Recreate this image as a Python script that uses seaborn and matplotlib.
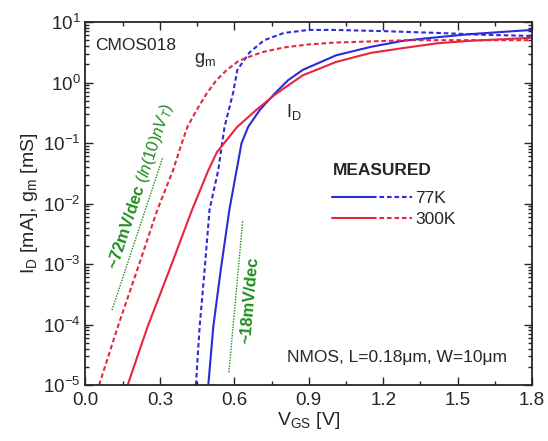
"""NMOS transfer characteristics at 77K and 300K (CMOS018)."""
import matplotlib
matplotlib.use("Agg")
import matplotlib.pyplot as plt
import numpy as np
import pandas as pd
import seaborn as sns
from matplotlib.legend_handler import HandlerTuple
from matplotlib.lines import Line2D
from matplotlib.ticker import LogLocator, MultipleLocator, NullFormatter

# ---- data (V_GS in V, log10 of I_D [mA] / g_m [mS]) ----
vgs_id_300 = [0.17, 0.25, 0.34, 0.43, 0.495, 0.53, 0.575, 0.61, 0.689, 0.77,
              0.876, 1.01, 1.15, 1.28, 1.42, 1.55, 1.80]
log_id_300 = [-5.0, -4.04, -3.08, -2.1, -1.45, -1.15, -0.92, -0.74, -0.45, -0.18,
              0.12, 0.34, 0.49, 0.57, 0.65, 0.69, 0.74]

vgs_gm_300 = [0.055, 0.13, 0.21, 0.29, 0.353, 0.381, 0.41, 0.448, 0.49, 0.528,
              0.57, 0.615, 0.643, 0.71, 0.80, 0.90, 1.00, 1.15, 1.30, 1.50, 1.80]
log_gm_300 = [-5.0, -4.04, -3.08, -2.1, -1.45, -1.09, -0.74, -0.455, -0.17, 0.04,
              0.21, 0.35, 0.40, 0.50, 0.58, 0.63, 0.66, 0.68, 0.70, 0.70, 0.70]

vgs_id_77 = [0.495, 0.515, 0.545, 0.58, 0.609, 0.629, 0.656, 0.703, 0.763,
             0.817, 0.876, 1.01, 1.15, 1.28, 1.42, 1.55, 1.80]
log_id_77 = [-5.0, -4.04, -3.1, -2.1, -1.45, -1.0, -0.73, -0.45, -0.18,
             0.04, 0.21, 0.45, 0.59, 0.69, 0.75, 0.80, 0.87]

vgs_gm_77 = [0.445, 0.46, 0.48, 0.50, 0.535, 0.56, 0.595, 0.612, 0.643, 0.662,
             0.72, 0.80, 0.90, 1.00, 1.20, 1.42, 1.60, 1.80]
log_gm_77 = [-5.0, -4.04, -3.1, -2.1, -1.45, -0.74, -0.17, 0.21, 0.39, 0.50,
             0.70, 0.82, 0.87, 0.87, 0.85, 0.82, 0.79, 0.77]

# subthreshold slope guide lines (two end points each)
slope72_v = [0.107, 0.312]
slope72_log = [-3.76, -1.23]
slope18_v = [0.578, 0.634]
slope18_log = [-4.79, -2.27]

temps = ["77K", "300K"]
x_ticks = [0.0, 0.3, 0.6, 0.9, 1.2, 1.5, 1.8]

BLUE = "#2b2bdb"
RED = "#e6263d"
GREEN = "#1f8c1f"

sns.set_style("ticks")
plt.rcParams["font.family"] = ["Liberation Sans", "DejaVu Sans"]
plt.rcParams["mathtext.fontset"] = "custom"
plt.rcParams["mathtext.rm"] = "Liberation Sans"
plt.rcParams["mathtext.it"] = "Liberation Sans:italic"
plt.rcParams["mathtext.bf"] = "Liberation Sans:bold"


def _frame(v, logv, temp, qty):
    return pd.DataFrame({"V": v, "val": 10.0 ** np.asarray(logv), "temp": temp, "qty": qty})


df = pd.concat([
    _frame(vgs_id_77, log_id_77, "77K", "ID"),
    _frame(vgs_gm_77, log_gm_77, "77K", "gm"),
    _frame(vgs_id_300, log_id_300, "300K", "ID"),
    _frame(vgs_gm_300, log_gm_300, "300K", "gm"),
], ignore_index=True)

fig = plt.figure(figsize=(5.48, 4.41), dpi=100)
ax = fig.add_axes([0.156, 0.127, 0.815, 0.823])

dash = (2.2, 1.4)
sns.lineplot(data=df, x="V", y="val", hue="temp", style="qty",
             palette={"77K": BLUE, "300K": RED},
             dashes={"ID": "", "gm": dash},
             estimator=None, sort=False, linewidth=1.5, legend=False, ax=ax)

for v, lg in [(slope72_v, slope72_log), (slope18_v, slope18_log)]:
    sns.lineplot(x=v, y=10.0 ** np.asarray(lg), color=GREEN, linestyle=(0, (1, 1)),
                 linewidth=1.0, estimator=None, ax=ax)

ax.set_yscale("log")
ax.set_xlim(0, 1.8)
ax.set_ylim(1e-5, 1e1)
ax.set_xticks(x_ticks)
ax.set_xticklabels([f"{t:.1f}" for t in x_ticks])
ax.xaxis.set_minor_locator(MultipleLocator(0.15))
ax.xaxis.set_minor_formatter(NullFormatter())
ax.yaxis.set_major_locator(LogLocator(base=10, numticks=10))
ax.yaxis.set_minor_locator(LogLocator(base=10, subs=np.arange(2, 10), numticks=20))
ax.yaxis.set_minor_formatter(NullFormatter())
ax.tick_params(which="both", direction="in", top=True, right=True, labelsize=13.5,
               width=1.0)
ax.tick_params(which="major", length=6)
ax.tick_params(which="minor", length=3)
ax.tick_params(axis="x", which="major", pad=5)
for sp in ax.spines.values():
    sp.set_linewidth(1.3)

ax.set_xlabel(r"$\mathrm{V_{GS}}$ [V]", fontsize=14, labelpad=1)
ax.set_ylabel(r"$\mathrm{I_D}$ [mA], $\mathrm{g_m}$ [mS]", fontsize=14, labelpad=2)

# annotations
ax.text(0.038, 10 ** 0.62, "CMOS018", fontsize=12.5, ha="left", va="center")
ax.text(0.48, 10 ** 0.37, r"$\mathrm{g_m}$", fontsize=13, ha="center", va="center")
ax.text(0.84, 10 ** -0.49, r"$\mathrm{I_D}$", fontsize=13, ha="center", va="center")
ax.text(1.70, 10 ** -4.55, "NMOS, L=0.18\u03bcm, W=10\u03bcm", fontsize=12.5,
        ha="right", va="center")
ax.text(0.222, 10 ** -1.72, r"~72mV/dec $\mathit{(ln(10)nV_T)}$", color=GREEN,
        fontsize=12, fontweight="bold", rotation=71.5, rotation_mode="anchor",
        ha="center", va="center")
ax.text(0.663, 10 ** -3.6, "~18mV/dec", color=GREEN, fontsize=12, fontweight="bold",
        rotation=85, rotation_mode="anchor", ha="center", va="center")

# legend: bold heading plus combined solid (I_D) / dashed (g_m) handles
ax.text(0.997, 10 ** -1.45, "MEASURED", fontsize=12.5, fontweight="bold",
        ha="left", va="center")
handles = [(Line2D([], [], color=c, lw=1.5), Line2D([], [], color=c, lw=1.5, linestyle=(0, dash)))
           for c in (BLUE, RED)]
ax.legend(handles, temps, loc="center left", bbox_to_anchor=(0.517, 0.485),
          frameon=False, fontsize=12.5, handlelength=4.6, handletextpad=0.2,
          labelspacing=0.35,
          handler_map={tuple: HandlerTuple(ndivide=None, pad=0)})

fig.savefig("out.png", dpi=100)
